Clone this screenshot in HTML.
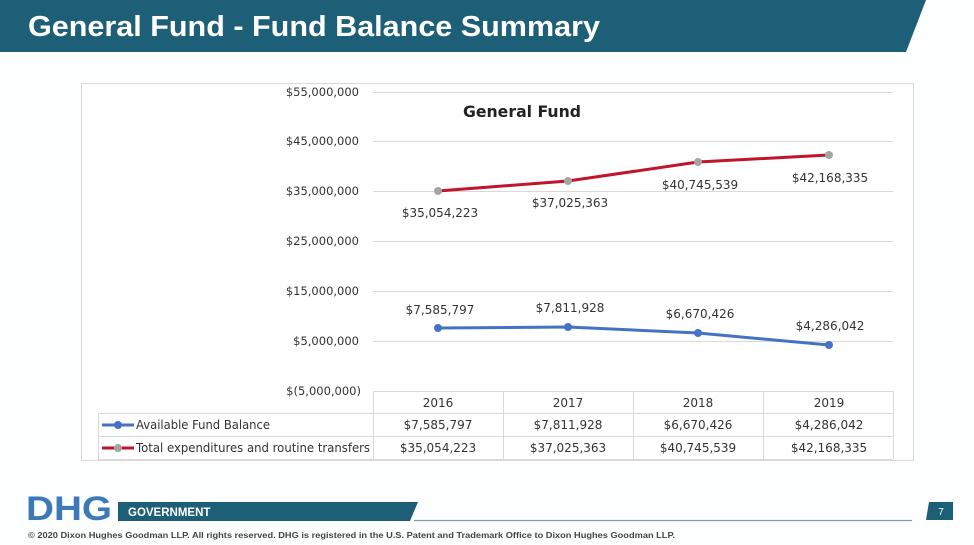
<!DOCTYPE html>
<html><head><meta charset="utf-8"><style>
body{margin:0;width:974px;height:545px;background:#fdfefe;overflow:hidden;font-family:"Liberation Sans",sans-serif;position:relative}
.t{position:absolute}
</style></head><body>
<svg class="t" style="left:0;top:0" width="974" height="545">
<polygon points="0,0 926,0 906,52 0,52" fill="#1c5f76"/>
<text x="28" y="36" font-family="Liberation Sans" font-weight="bold" font-size="29" fill="#fff" textLength="572" lengthAdjust="spacingAndGlyphs">General Fund - Fund Balance Summary</text>
<rect x="81.5" y="83.5" width="832" height="377" fill="#fff" stroke="#d9d9d9"/>
<text x="522" y="117" text-anchor="middle" font-family="DejaVu Sans" font-weight="bold" font-size="16" fill="#222" textLength="118" lengthAdjust="spacingAndGlyphs">General Fund</text>
<g stroke="#d9d9d9" stroke-width="1">
<line x1="373" y1="92.5" x2="893" y2="92.5"/><line x1="373" y1="141.5" x2="893" y2="141.5"/>
<line x1="373" y1="191.5" x2="893" y2="191.5"/><line x1="373" y1="241.5" x2="893" y2="241.5"/>
<line x1="373" y1="291.5" x2="893" y2="291.5"/><line x1="373" y1="341.5" x2="893" y2="341.5"/>
<line x1="373" y1="391.5" x2="893" y2="391.5"/>
<line x1="98" y1="413.5" x2="893" y2="413.5"/><line x1="98" y1="436.5" x2="893" y2="436.5"/><line x1="98" y1="459.5" x2="893" y2="459.5"/>
<line x1="98.5" y1="413" x2="98.5" y2="459"/>
<line x1="373.5" y1="391" x2="373.5" y2="459"/><line x1="503.5" y1="391" x2="503.5" y2="459"/>
<line x1="633.5" y1="391" x2="633.5" y2="459"/><line x1="763.5" y1="391" x2="763.5" y2="459"/><line x1="893.5" y1="391" x2="893.5" y2="459"/>
</g>
<g font-family="DejaVu Sans" font-size="11.5" fill="#333" text-anchor="end">
<text x="359" y="96">$55,000,000</text><text x="359" y="145">$45,000,000</text>
<text x="359" y="195">$35,000,000</text><text x="359" y="245">$25,000,000</text>
<text x="359" y="295">$15,000,000</text><text x="359" y="345">$5,000,000</text>
<text x="361" y="395">$(5,000,000)</text>
</g>
<polyline points="438,191 568,181 698,162 829,155" fill="none" stroke="#c0152a" stroke-width="3"/>
<polyline points="438,328 568,327 698,333 829,345" fill="none" stroke="#4472c4" stroke-width="3"/>
<g fill="#a5a5a5"><circle cx="438" cy="191" r="4"/><circle cx="568" cy="181" r="4"/><circle cx="698" cy="162" r="4"/><circle cx="829" cy="155" r="4"/></g>
<g fill="#4472c4"><circle cx="438" cy="328" r="4"/><circle cx="568" cy="327" r="4"/><circle cx="698" cy="333" r="4"/><circle cx="829" cy="345" r="4"/></g>
<g font-family="DejaVu Sans" font-size="12" fill="#333" text-anchor="middle">
<text x="440" y="217">$35,054,223</text><text x="570" y="207">$37,025,363</text>
<text x="700" y="189">$40,745,539</text><text x="830" y="182">$42,168,335</text>
<text x="440" y="314">$7,585,797</text><text x="570" y="312">$7,811,928</text>
<text x="700" y="318">$6,670,426</text><text x="830" y="330">$4,286,042</text>
<text x="438" y="407">2016</text><text x="568" y="407">2017</text><text x="698" y="407">2018</text><text x="829" y="407">2019</text>
<text x="438" y="429">$7,585,797</text><text x="568" y="429">$7,811,928</text><text x="698" y="429">$6,670,426</text><text x="829" y="429">$4,286,042</text>
<text x="438" y="452">$35,054,223</text><text x="568" y="452">$37,025,363</text><text x="698" y="452">$40,745,539</text><text x="829" y="452">$42,168,335</text>
</g>
<line x1="102" y1="425" x2="134" y2="425" stroke="#4472c4" stroke-width="3"/><circle cx="118" cy="425" r="4" fill="#4472c4"/>
<line x1="102" y1="448" x2="134" y2="448" stroke="#c0152a" stroke-width="3"/><circle cx="118" cy="448" r="4" fill="#a5a5a5"/>
<g font-family="DejaVu Sans" font-size="12" fill="#333">
<text x="136" y="429" textLength="134" lengthAdjust="spacingAndGlyphs">Available Fund Balance</text>
<text x="136" y="452" textLength="234" lengthAdjust="spacingAndGlyphs">Total expenditures and routine transfers</text>
</g>
<text x="26" y="520" font-family="Liberation Sans" font-weight="bold" font-size="34" fill="#3d78b8" textLength="86" lengthAdjust="spacingAndGlyphs">DHG</text>
<polygon points="118,502 418,502 410,521 118,521" fill="#1c5f76"/>
<text x="128" y="516" font-family="Liberation Sans" font-weight="bold" font-size="11.5" fill="#fff">GOVERNMENT</text>
<line x1="414" y1="520.5" x2="912" y2="520.5" stroke="#7f9aa6" stroke-width="1.2"/>
<polygon points="929,502 953,502 953,520 926,520" fill="#1c5f76"/>
<text x="941" y="515" text-anchor="middle" font-family="Liberation Sans" font-size="10" fill="#fff">7</text>
<text x="28" y="538" font-family="Liberation Sans" font-weight="bold" font-size="8" fill="#444" textLength="647" lengthAdjust="spacingAndGlyphs">© 2020 Dixon Hughes Goodman LLP. All rights reserved. DHG is registered in the U.S. Patent and Trademark Office to Dixon Hughes Goodman LLP.</text>
</svg>
</body></html>
